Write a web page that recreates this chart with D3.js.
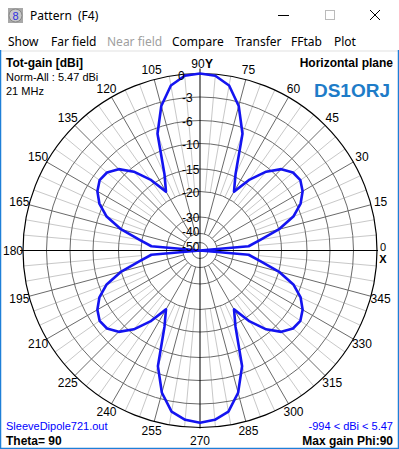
<!DOCTYPE html>
<html>
<head>
<meta charset="utf-8">
<script src="https://cdn.jsdelivr.net/npm/d3@7"></script>
<style>
  body { margin: 0; background: #fff; }
  svg { display: block; }
</style>
</head>
<body>
<div id="chart"></div>
<script>
// Pattern data: azimuth (deg) and total gain (dBi, normalised)
const azimuth = [0, 5, 10, 15, 20, 25, 30, 35, 40, 45, 50, 55, 60, 65, 70, 75, 80, 85,
  90, 95, 100, 105, 110, 115, 120, 125, 130, 135, 140, 145, 150, 155, 160, 165, 170, 175,
  180, 185, 190, 195, 200, 205, 210, 215, 220, 225, 230, 235, 240, 245, 250, 255, 260, 265,
  270, 275, 280, 285, 290, 295, 300, 305, 310, 315, 320, 325, 330, 335, 340, 345, 350, 355];
const gain = [-994, -24, -19.5, -15, -11.5, -9.3, -8, -7.3, -7.5, -8.6, -10.8, -14, -18, -14.5, -7, -3.5, -1.2, -0.2,
  0, -0.2, -1.2, -3.5, -7, -14.5, -18, -14, -10.8, -8.6, -7.5, -7.3, -8, -9.3, -11.5, -15, -19.5, -24,
  -994, -24, -19.5, -15, -11.5, -9.3, -8, -7.3, -7.5, -8.6, -10.8, -14, -18, -14.5, -7.2, -3.8, -1.7, -0.9,
  -0.6, -0.9, -1.7, -3.8, -7.2, -14.5, -18, -14, -10.8, -8.6, -7.5, -7.3, -8, -9.3, -11.5, -15, -19.5, -24];

// Grid rings (dB) and angle labels
const ringDb = [-50, -40, -30, -20, -15, -10, -6, -3];
const ringLabels = ["-50", "-40", "-30", "-20", "-15", "-10", "-6", "-3"];
const angleTicks = [15, 30, 45, 60, 75, 105, 120, 135, 150, 165, 180, 195, 210, 225, 240, 255, 270, 285, 300, 315, 330, 345];
const menuItems = ["Show", "Far field", "Near field", "Compare", "Transfer", "FFtab", "Plot"];
const menuX = [8, 51, 107, 172, 235, 291, 334];

const W = 399, H = 449;
const cx = 200, cy = 250.5, R = 177;

const svg = d3.select("#chart").append("svg")
  .attr("width", W).attr("height", H)
  .style("font-family", "'Liberation Sans', Arial, sans-serif");

svg.append("rect").attr("width", W).attr("height", H).attr("fill", "#fff");

// ---- window chrome ----
const ui = "'Noto Sans', 'Open Sans', sans-serif";
const icon = svg.append("g");
icon.append("rect").attr("x", 8).attr("y", 8).attr("width", 15).attr("height", 15).attr("fill", "#a8a8a8");
icon.append("circle").attr("cx", 15.5).attr("cy", 15.5).attr("r", 6.5).attr("fill", "#c8c8c8").attr("stroke", "#888");
icon.append("text").attr("x", 15.5).attr("y", 19.5).attr("text-anchor", "middle")
  .style("font-size", "11px").attr("fill", "#3030e0").text("8");
svg.append("text").attr("x", 30).attr("y", 20).style("font-family", ui).style("font-size", "12px")
  .attr("fill", "#000").text("Pattern");
svg.append("text").attr("x", 78).attr("y", 20).style("font-family", ui).style("font-size", "12px")
  .attr("fill", "#000").text("(F4)");
svg.append("line").attr("x1", 278).attr("x2", 289).attr("y1", 15.5).attr("y2", 15.5).attr("stroke", "#000");
svg.append("rect").attr("x", 325.5).attr("y", 10.5).attr("width", 9).attr("height", 9)
  .attr("fill", "none").attr("stroke", "#bbb");
svg.append("path").attr("d", "M370,10L380,20M380,10L370,20").attr("stroke", "#000").attr("stroke-width", 1);

svg.selectAll(".menu").data(menuItems).enter().append("text")
  .attr("x", (d, i) => menuX[i]).attr("y", 46)
  .style("font-family", ui).style("font-size", "12px")
  .attr("fill", d => d === "Near field" ? "#a0a0a0" : "#000")
  .text(d => d);

svg.append("rect").attr("x", 0).attr("y", 50).attr("width", W).attr("height", 2).attr("fill", "#f0f0f0");
svg.append("path").attr("d", `M0.5,50V448.5H398.5V50`).attr("fill", "none").attr("stroke", "#1e7fd8").attr("stroke-width", 1.5);

// ---- polar plot ----
const r = d3.scaleLinear()
  .domain([-994, -50, -40, -30, -20, -15, -10, -6, -3, 0])
  .range([0, 8, 17, 33.5, 59, 81.5, 107, 130, 153.5, R])
  .clamp(true);

const plot = svg.append("g").attr("transform", `translate(${cx},${cy})`);
const rad = a => a * Math.PI / 180;

// light radial lines every 5 deg (not on 15 deg multiples)
const fine = [];
for (let a = 0; a < 360; a += 5) if (a % 15 !== 0) fine.push(a);
plot.selectAll(".fine").data(fine).enter().append("line")
  .attr("x1", a => r(-20) * Math.cos(rad(a))).attr("y1", a => -r(-20) * Math.sin(rad(a)))
  .attr("x2", a => R * Math.cos(rad(a))).attr("y2", a => -R * Math.sin(rad(a)))
  .attr("stroke", "#c8c8c8").attr("stroke-width", 1);

// dark radial lines every 15 deg
const coarse = angleTicks.filter(a => a % 90 !== 0);
plot.selectAll(".coarse").data(coarse).enter().append("line")
  .attr("x1", a => r(-40) * Math.cos(rad(a))).attr("y1", a => -r(-40) * Math.sin(rad(a)))
  .attr("x2", a => R * Math.cos(rad(a))).attr("y2", a => -R * Math.sin(rad(a)))
  .attr("stroke", "#6a6a6a").attr("stroke-width", 1);

// rings
plot.selectAll(".ring").data(ringDb).enter().append("circle")
  .attr("r", d => r(d)).attr("fill", "none").attr("stroke", "#6a6a6a").attr("stroke-width", 1);
plot.append("circle").attr("r", R).attr("fill", "none").attr("stroke", "#000").attr("stroke-width", 1.2);

// axes
plot.append("line").attr("x1", -R - 3).attr("x2", R + 1).attr("y1", 0).attr("y2", 0).attr("stroke", "#000");
plot.append("line").attr("x1", 0).attr("x2", 0).attr("y1", -R - 5).attr("y2", R + 1).attr("stroke", "#000");

// pattern
const line = d3.lineRadial()
  .angle((d, i) => rad(90 - azimuth[i]))
  .radius(d => r(d))
  .curve(d3.curveLinearClosed);
plot.append("path").datum(gain)
  .attr("d", line)
  .attr("fill", "none").attr("stroke", "#1414f0").attr("stroke-width", 2.6)
  .attr("stroke-linejoin", "round");

// ring labels along vertical axis
const labelShift = { "-50": 3, "-40": -3 };
plot.selectAll(".rlab").data(ringDb).enter().append("text")
  .attr("x", -18).attr("y", d => -r(d) + 1 + (labelShift[d] || 0))
  .attr("dominant-baseline", "central")
  .style("font-size", "12px").attr("fill", "#000")
  .text((d, i) => ringLabels[i]);
plot.append("text").attr("x", -22).attr("y", -R + 2).attr("dominant-baseline", "central")
  .style("font-size", "12px").text("0");

// angle labels
plot.selectAll(".alab").data(angleTicks).enter().append("text")
  .attr("x", a => 187 * Math.cos(rad(a)))
  .attr("y", a => -187 * Math.sin(rad(a)) + (a === 270 ? 3 : 0))
  .attr("text-anchor", "middle").attr("dominant-baseline", "central")
  .style("font-size", "12px").attr("fill", "#000")
  .text(a => a);
plot.append("text").attr("x", -2).attr("y", -187).attr("text-anchor", "middle")
  .attr("dominant-baseline", "central").style("font-size", "12px").text("90");
plot.append("text").attr("x", 9).attr("y", -187).attr("text-anchor", "middle")
  .attr("dominant-baseline", "central").style("font-size", "12px").style("font-weight", "bold").text("Y");
plot.append("text").attr("x", 183).attr("y", -3.5).attr("text-anchor", "middle")
  .attr("dominant-baseline", "central").style("font-size", "11px").text("0");
plot.append("text").attr("x", 183).attr("y", 8).attr("text-anchor", "middle")
  .attr("dominant-baseline", "central").style("font-size", "11px").style("font-weight", "bold").text("X");

// ---- info texts ----
svg.append("text").attr("x", 6).attr("y", 67).style("font-size", "12px").style("font-weight", "bold").text("Tot-gain [dBi]");
svg.append("text").attr("x", 6).attr("y", 81).style("font-size", "11px").text("Norm-All : 5.47 dBi");
svg.append("text").attr("x", 6).attr("y", 95).style("font-size", "11px").text("21 MHz");
svg.append("text").attr("x", 393).attr("y", 67).attr("text-anchor", "end")
  .style("font-size", "12px").style("font-weight", "bold").text("Horizontal plane");
svg.append("text").attr("x", 390).attr("y", 97).attr("text-anchor", "end")
  .style("font-size", "19px").style("font-weight", "bold").attr("fill", "#1e7cc8").text("DS1ORJ");
svg.append("text").attr("x", 6).attr("y", 430).style("font-size", "11px").attr("fill", "#0000ff").text("SleeveDipole721.out");
svg.append("text").attr("x", 6).attr("y", 445).style("font-size", "12px").style("font-weight", "bold").text("Theta= 90");
svg.append("text").attr("x", 393).attr("y", 430).attr("text-anchor", "end")
  .style("font-size", "11px").attr("fill", "#0000ff").text("-994 < dBi < 5.47");
svg.append("text").attr("x", 393).attr("y", 445).attr("text-anchor", "end")
  .style("font-size", "12px").style("font-weight", "bold").text("Max gain Phi:90");
</script>
</body>
</html>
